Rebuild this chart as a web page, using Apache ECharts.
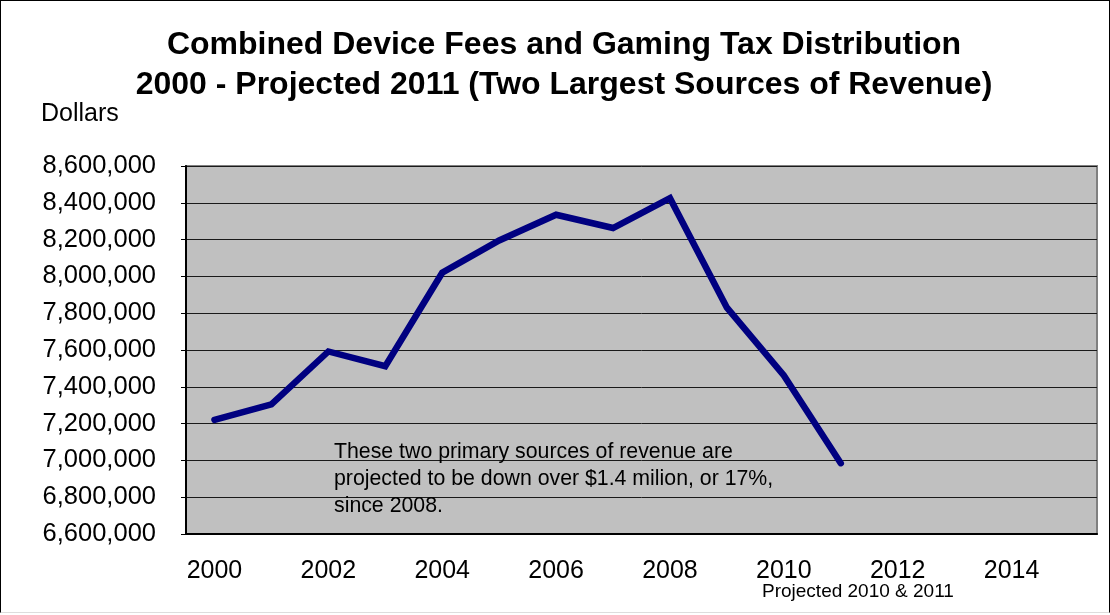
<!DOCTYPE html>
<html>
<head>
<meta charset="utf-8">
<script src="https://cdn.jsdelivr.net/npm/echarts@6/dist/echarts.min.js"></script>
<style>
  html, body { margin: 0; padding: 0; background: #fff; }
  #chart { width: 1108px; height: 611px; border: 1px solid #000; border-bottom-color: #ddd; }
</style>
</head>
<body>
<div id="chart"></div>
<script>
// Years on the category axis (the axis runs past the last data year)
const years = ['2000','2001','2002','2003','2004','2005','2006','2007','2008','2009','2010','2011','2012','2013','2014','2015'];
// Combined device fees + gaming tax distribution, dollars (2010 & 2011 projected)
const revenue = [7220000, 7305000, 7592000, 7512000, 8020000, 8195000, 8335000, 8263000, 8425000, 7830000, 7462000, 6985000];
const yMin = 6600000;
const yMax = 8600000;
const yStep = 200000;

const titleText = 'Combined Device Fees and Gaming Tax Distribution\n2000 - Projected 2011 (Two Largest Sources of Revenue)';
const noteLines = [
  'These two primary sources of revenue are',
  'projected to be down over $1.4 milion, or 17%,',
  'since 2008.'
];

const font = '"Liberation Sans", Arial, sans-serif';
const chart = echarts.init(document.getElementById('chart'));

chart.setOption({
  animation: false,
  title: [{
    text: titleText,
    left: 558,
    textAlign: 'center',
    top: 19,
    textStyle: { fontFamily: font, fontWeight: 'bold', fontSize: 32, lineHeight: 40, color: '#000' }
  }, {
    text: 'Dollars',
    left: 35,
    top: 96,
    textStyle: { fontFamily: font, fontWeight: 'normal', fontSize: 25, color: '#000' }
  }, {
    text: 'Projected 2010 & 2011',
    left: 756,
    top: 576,
    textStyle: { fontFamily: font, fontWeight: 'normal', fontSize: 19, color: '#000' }
  }],
  grid: {
    left: 185, right: 12, top: 165, bottom: 78,
    show: true,
    backgroundColor: '#c0c0c0',
    borderColor: '#808080',
    borderWidth: 2
  },
  xAxis: {
    type: 'category',
    data: years,
    boundaryGap: true,
    axisLine: { lineStyle: { color: '#000', width: 2 } },
    axisTick: { interval: 0, length: 6, lineStyle: { color: '#000', width: 1 } },
    axisLabel: { interval: 1, margin: 25, fontFamily: font, fontSize: 25, color: '#000' },
    splitLine: { show: false }
  },
  yAxis: {
    type: 'value',
    min: yMin,
    max: yMax,
    interval: yStep,
    axisLine: { show: true, lineStyle: { color: '#000', width: 2 } },
    axisTick: { show: true, length: 5, lineStyle: { color: '#000' } },
    axisLabel: {
      margin: 30, fontFamily: font, fontSize: 25.5, color: '#000',
      formatter: v => v.toLocaleString('en-US')
    },
    splitLine: { show: true, lineStyle: { color: '#1a1a1a', width: 1 } }
  },
  series: [{
    type: 'line',
    data: revenue,
    symbol: 'none',
    lineStyle: { color: '#000080', width: 6.5, cap: 'round', join: 'miter' },
    z: 5
  }],
  graphic: [{
    type: 'text',
    left: 333,
    top: 438,
    z: 10,
    style: {
      text: noteLines.join('\n'),
      fontFamily: font,
      fontSize: 21.3,
      lineHeight: 26.7,
      fill: '#000'
    }
  }]
});
</script>
</body>
</html>
